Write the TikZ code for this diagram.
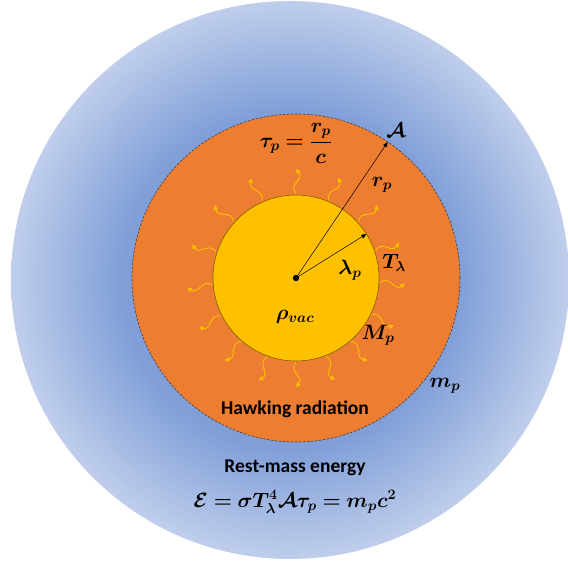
\documentclass[tikz,border=0pt]{standalone}
\usepackage{fontspec}
\setmainfont{Carlito}
\usepackage{amsmath,bm}
\usetikzlibrary{arrows.meta}
\definecolor{ringorange}{HTML}{ED7D31}
\definecolor{coregold}{HTML}{FFC000}
\definecolor{coreedge}{HTML}{7F6000}
\definecolor{bluedark}{HTML}{809ED8}
\definecolor{bluelight}{HTML}{BFCEEB}
\pgfdeclareradialshading{restmass}{\pgfpoint{0bp}{0bp}}{color(0bp)=(bluedark); color(15bp)=(bluedark); color(25bp)=(bluelight); color(50bp)=(bluelight)}
\tikzset{
  hawkray/.style={coregold,line width=0.9pt,-{Triangle[length=4.5pt,width=4.5pt]}},
  radius/.style={black,line width=0.5pt,-{Triangle[length=5pt,width=4pt]}},
  mathlbl/.style={font=\fontsize{20}{24}\selectfont},
  textlbl/.style={font=\fontsize{19.5}{23}\selectfont\bfseries}
}
\begin{document}
\begin{tikzpicture}[x=1pt,y=1pt,line join=round]
\useasboundingbox (0,0) rectangle (568,567);
% rest-mass shell
\shade[shading=restmass] (290,287) circle (279);
% planck particle
\coordinate (C) at (296,289);
\fill[ringorange] (C) circle (164);
\draw[black!75,line width=0.6pt,dash pattern=on 2.5pt off 1.5pt] (C) circle (164);
\filldraw[fill=coregold,draw=coreedge,line width=0.6pt] (C) circle (83);
% hawking radiation
\begin{scope}[shift={(C)}]
\foreach \a/\s in {90/1,114/-1,67/1,138/-1,42/1,162/-1,19/1,185/-1,-3/1,207/-1,-26/1,229/-1,-49/1,250/-1,-69/1,270/-1}{
  \pgfmathsetmacro\ap{\a+5*\s}
  \pgfmathsetmacro\am{\a-5*\s}
  \draw[hawkray] (\a:84) .. controls (\ap:94) and (\am:99) .. (\a:109);
}
\end{scope}
% radii
\path (C) ++(56:164) coordinate (Aend);
\path (C) ++(32:83) coordinate (Lend);
\draw[radius] (C) -- (Aend);
\draw[radius] (C) -- (Lend);
\fill (C) circle (3.2);
% labels
\node[mathlbl] (taulbl) at (296,424) {$\bm{\tau_p = \dfrac{r_p}{c}}$};
\node[mathlbl] (arealbl) at (396,437) {$\bm{\mathcal{A}}$};
\node[mathlbl] (rplbl) at (382,382) {$\bm{r_p}$};
\node[mathlbl] (templbl) at (394,304) {$\bm{T_\lambda}$};
\node[mathlbl] (lamlbl) at (350,297) {$\bm{\lambda_p}$};
\node[mathlbl] (rholbl) at (295,250) {$\bm{\rho_{vac}}$};
\node[mathlbl] (Mlbl) at (378,232) {$\bm{M_p}$};
\node[mathlbl] (mlbl) at (445,181) {$\bm{m_p}$};
\node[textlbl] (hawklbl) at (295,158) {Hawking radiation};
\node[textlbl] (restlbl) at (295,99) {Rest-mass energy};
\node[mathlbl] (eqlbl) at (295,65) {$\bm{\mathcal{E} = \sigma T_\lambda^4 \mathcal{A} \tau_p = m_p c^2}$};
\end{tikzpicture}
\end{document}
